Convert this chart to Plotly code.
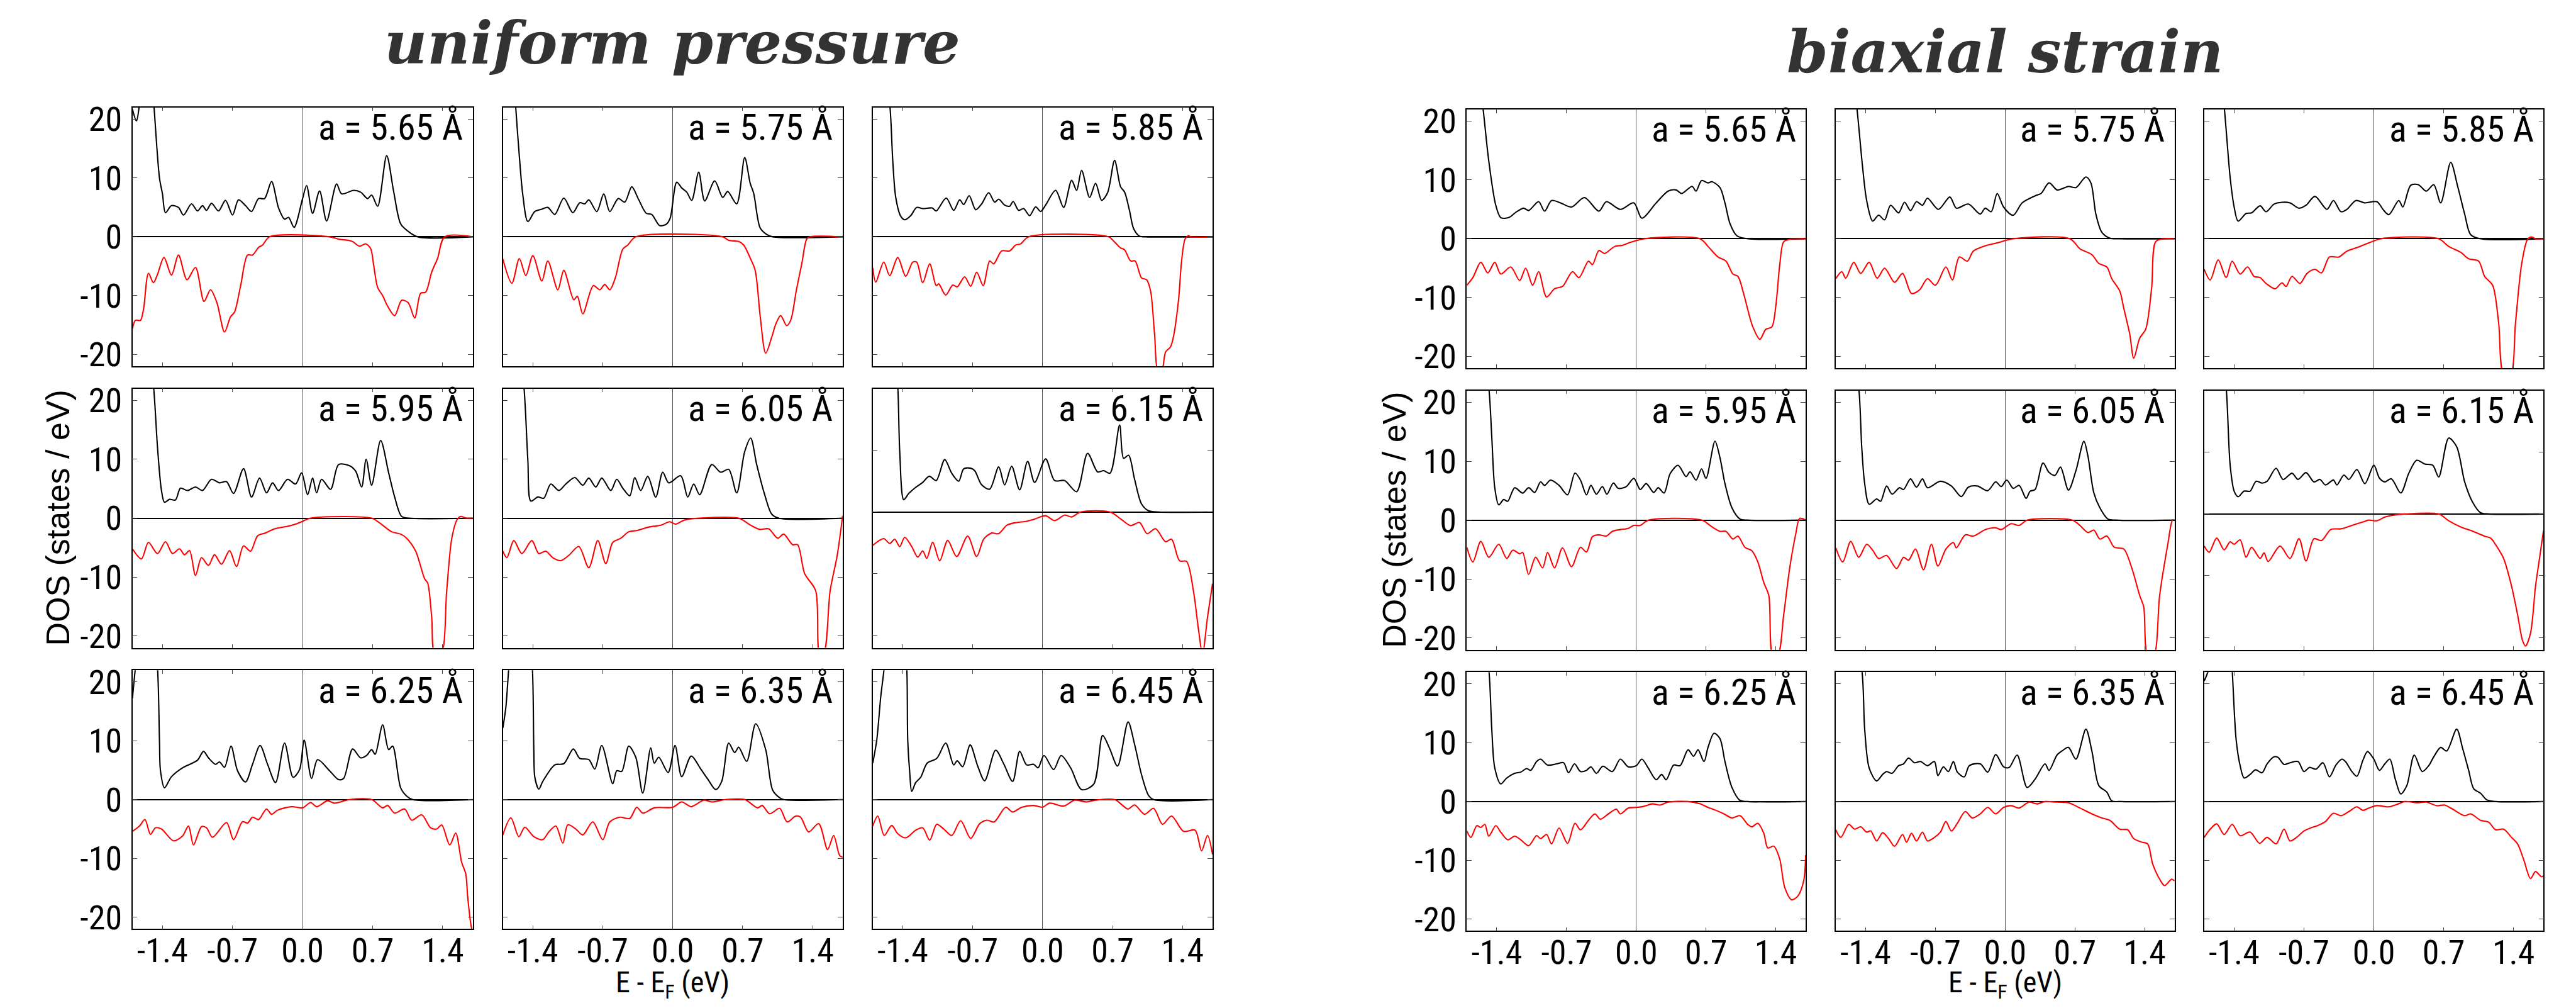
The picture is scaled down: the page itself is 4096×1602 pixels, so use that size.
import plotly.graph_objects as go

# ---------------- data (energy in eV, DOS in states/eV) ----------------
LABELS_UP = ["5.65", "5.75", "5.85", "5.95", "6.05", "6.15", "6.25", "6.35", "6.45"]
E_TICKS = [-1.4, -0.7, 0.0, 0.7, 1.4]
E_TICK_TEXT = ["-1.4", "-0.7", "0.0", "0.7", "1.4"]
DOS_TICKS = [-20, -10, 0, 10, 20]
DOS_TICK_TEXT = ["-20", "-10", "0", "10", "20"]

# ---- uniform pressure ----
up565_maj = [(-1.70,21.7),(-1.66,19.7),(-1.63,22.5),(-1.58,30),(-1.52,30),(-1.486,22.5),(-1.43,10),(-1.40,7.3),(-1.37,4.1),(-1.31,5.3),(-1.24,5.0),(-1.19,3.7),(-1.11,5.6),(-1.05,4.4),(-1.00,5.3),(-0.96,4.5),(-0.91,5.7),(-0.84,4.4),(-0.77,6.2),(-0.70,3.7),(-0.64,6.3),(-0.57,5.3),(-0.51,4.3),(-0.44,6.5),(-0.38,6.5),(-0.31,9.4),(-0.24,4.9),(-0.18,3.0),(-0.14,3.3),(-0.085,1.6),(0.0,6.5),(0.04,8.7),(0.10,4.0),(0.17,7.8),(0.24,2.7),(0.34,9.0),(0.39,7.3),(0.51,7.9),(0.58,7.6),(0.65,6.5),(0.69,7.1),(0.75,5.2),(0.84,13.8),(0.91,7.7),(0.98,2.2),(1.05,1.0),(1.15,0),(1.70,0)]
up565_min = [(-1.70,-15.6),(-1.67,-14.2),(-1.62,-14.2),(-1.59,-12.4),(-1.54,-6.2),(-1.49,-7.8),(-1.45,-6.4),(-1.385,-3.5),(-1.31,-6.5),(-1.24,-3.1),(-1.155,-7.3),(-1.07,-5.2),(-0.985,-11.0),(-0.92,-9.0),(-0.856,-11.2),(-0.78,-16.2),(-0.72,-13.6),(-0.68,-12.8),(-0.62,-8.4),(-0.55,-3.1),(-0.50,-3.1),(-0.44,-1.8),(-0.40,-1.4),(-0.33,0),(0.27,0),(0.36,-0.4),(0.46,-0.6),(0.50,-0.8),(0.57,-1.6),(0.63,-1.2),(0.68,-2.0),(0.71,-4.8),(0.75,-8.6),(0.80,-10.0),(0.85,-11.8),(0.92,-13.4),(0.99,-10.8),(1.055,-11.2),(1.12,-13.8),(1.18,-9.6),(1.23,-9.4),(1.29,-6.0),(1.35,-3.6),(1.42,0),(1.70,0)]

up575_maj = [(-1.70,40),(-1.60,30),(-1.573,22.5),(-1.535,13.7),(-1.50,7.1),(-1.45,2.6),(-1.38,4.3),(-1.31,4.7),(-1.25,5.0),(-1.18,3.8),(-1.09,6.6),(-1.00,4.1),(-0.93,5.8),(-0.88,5.6),(-0.84,6.3),(-0.76,4.3),(-0.69,7.3),(-0.63,4.3),(-0.545,6.5),(-0.48,5.9),(-0.41,8.5),(-0.34,6.3),(-0.265,4.0),(-0.21,3.8),(-0.13,1.9),(-0.06,2.2),(-0.025,3.2),(0.04,9.3),(0.09,8.3),(0.14,7.6),(0.19,6.2),(0.26,11.0),(0.32,6.1),(0.42,9.5),(0.50,6.7),(0.55,7.7),(0.64,5.6),(0.72,13.5),(0.775,9.1),(0.81,7.4),(0.875,1.5),(0.94,0.4),(1.00,0),(1.70,0)]
up575_min = [(-1.70,-3.8),(-1.61,-7.9),(-1.535,-3.7),(-1.47,-6.6),(-1.40,-3.2),(-1.31,-7.5),(-1.25,-4.1),(-1.15,-9.0),(-1.09,-5.7),(-0.99,-10.7),(-0.955,-10.1),(-0.90,-13.1),(-0.795,-8.3),(-0.73,-9.0),(-0.68,-8.1),(-0.63,-9.0),(-0.575,-7.0),(-0.50,-2.1),(-0.45,-1.4),(-0.37,0),(0.50,0),(0.56,-0.6),(0.66,-0.8),(0.71,-1.4),(0.775,-3.6),(0.825,-5.7),(0.875,-13.5),(0.93,-19.8),(0.99,-17.1),(1.03,-14.9),(1.08,-13.4),(1.14,-15.1),(1.18,-14.2),(1.24,-8.8),(1.29,-4.7),(1.34,-0.4),(1.37,0),(1.70,0)]

up585_maj = [(-1.70,40),(-1.60,30),(-1.53,22.5),(-1.50,13.0),(-1.47,6.7),(-1.42,3.5),(-1.38,2.9),(-1.32,3.6),(-1.26,5.0),(-1.20,4.8),(-1.105,4.9),(-1.065,4.4),(-0.965,6.6),(-0.89,4.5),(-0.83,6.3),(-0.79,5.5),(-0.735,7.0),(-0.67,4.6),(-0.61,5.6),(-0.54,7.5),(-0.48,5.9),(-0.44,6.4),(-0.38,5.4),(-0.33,5.2),(-0.295,6.0),(-0.24,4.5),(-0.19,4.8),(-0.13,3.6),(-0.07,5.1),(-0.02,4.3),(0.03,5.4),(0.13,7.9),(0.21,5.0),(0.29,9.6),(0.34,7.9),(0.39,11.3),(0.47,6.7),(0.53,9.1),(0.59,6.2),(0.65,7.5),(0.72,13.0),(0.78,8.5),(0.82,7.6),(0.87,4.4),(0.91,1.4),(0.97,0.1),(1.03,0),(1.70,0)]
up585_min = [(-1.70,-5.3),(-1.67,-7.7),(-1.59,-4.3),(-1.53,-6.6),(-1.45,-3.5),(-1.37,-6.7),(-1.30,-4.3),(-1.26,-4.3),(-1.20,-7.8),(-1.13,-4.6),(-1.065,-8.3),(-1.04,-8.0),(-0.97,-9.9),(-0.90,-8.2),(-0.855,-8.5),(-0.78,-6.8),(-0.72,-8.4),(-0.66,-6.0),(-0.595,-8.3),(-0.53,-4.1),(-0.49,-4.6),(-0.41,-2.4),(-0.33,-2.4),(-0.27,-1.4),(-0.22,-1.2),(-0.14,0),(0.66,0),(0.71,-0.7),(0.78,-1.9),(0.82,-2.2),(0.88,-4.1),(0.925,-4.1),(0.99,-7.0),(1.04,-7.3),(1.08,-9.2),(1.12,-16.6),(1.155,-23),(1.19,-23),(1.23,-19.6),(1.28,-18.7),(1.31,-16.9),(1.36,-10.7),(1.39,-4.2),(1.425,-0.4),(1.46,0.2),(1.48,0),(1.70,0)]

up595_maj = [(-1.70,40),(-1.55,30),(-1.49,22.5),(-1.45,12.1),(-1.41,4.7),(-1.38,2.7),(-1.33,3.2),(-1.27,3.1),(-1.22,5.1),(-1.15,4.7),(-1.07,5.3),(-1.00,4.7),(-0.91,6.6),(-0.83,6.0),(-0.76,6.2),(-0.69,4.2),(-0.59,8.4),(-0.51,3.6),(-0.43,6.8),(-0.36,4.3),(-0.30,6.0),(-0.24,4.7),(-0.15,6.6),(-0.07,5.8),(-0.01,7.7),(0.05,4.0),(0.10,6.8),(0.14,4.3),(0.19,6.6),(0.28,4.9),(0.36,9.1),(0.47,8.9),(0.53,8.0),(0.59,5.3),(0.635,10.0),(0.69,5.6),(0.78,13.2),(0.86,7.7),(0.92,3.6),(0.99,0.3),(1.07,0),(1.70,0)]
up595_min = [(-1.70,-5.2),(-1.61,-6.9),(-1.54,-4.1),(-1.45,-6.0),(-1.37,-4.0),(-1.30,-6.0),(-1.23,-5.2),(-1.18,-6.2),(-1.13,-5.5),(-1.07,-9.7),(-1.01,-6.7),(-0.94,-8.0),(-0.88,-6.2),(-0.81,-7.8),(-0.73,-5.5),(-0.66,-8.2),(-0.59,-4.7),(-0.52,-5.6),(-0.45,-3.0),(-0.37,-2.5),(-0.28,-1.8),(-0.16,-1.4),(-0.07,-1.0),(-0.01,-0.6),(0.08,0),(0.69,0),(0.77,-0.8),(0.89,-2.3),(0.98,-2.7),(1.04,-3.4),(1.13,-5.6),(1.22,-10.3),(1.25,-11.0),(1.29,-16.8),(1.32,-23),(1.385,-23),(1.44,-12.3),(1.49,-3.5),(1.545,-0.2),(1.58,0.3),(1.64,0),(1.70,0)]

up605_maj = [(-1.70,40),(-1.55,30),(-1.49,22.5),(-1.45,9.9),(-1.42,2.9),(-1.35,3.6),(-1.29,3.4),(-1.22,5.8),(-1.14,4.7),(-1.07,5.8),(-0.98,6.9),(-0.90,5.6),(-0.84,6.8),(-0.77,5.3),(-0.71,6.8),(-0.62,4.7),(-0.56,6.6),(-0.50,5.1),(-0.43,3.8),(-0.38,6.9),(-0.32,4.7),(-0.25,7.1),(-0.17,3.6),(-0.10,7.8),(-0.04,6.0),(0.08,7.2),(0.15,3.6),(0.21,5.8),(0.27,4.0),(0.39,9.1),(0.48,7.8),(0.56,8.3),(0.64,4.3),(0.72,11.3),(0.78,13.6),(0.84,9.1),(0.92,4.0),(0.99,0.7),(1.06,0),(1.70,0)]
up605_min = [(-1.70,-5.6),(-1.66,-6.7),(-1.59,-3.8),(-1.51,-6.0),(-1.41,-3.8),(-1.34,-6.0),(-1.27,-5.6),(-1.20,-6.7),(-1.12,-7.2),(-1.04,-6.3),(-0.94,-4.8),(-0.84,-8.4),(-0.75,-3.8),(-0.67,-7.7),(-0.60,-4.1),(-0.52,-3.4),(-0.44,-2.3),(-0.36,-2.1),(-0.24,-1.5),(-0.12,-1.2),(-0.03,-0.6),(0.03,-1.0),(0.12,-0.3),(0.27,0),(0.66,0),(0.78,-1.2),(0.87,-1.9),(0.96,-1.8),(1.05,-3.4),(1.11,-2.7),(1.20,-4.5),(1.25,-4.5),(1.32,-9.4),(1.43,-12.3),(1.47,-23),(1.51,-23),(1.575,-12.3),(1.645,-6.4),(1.70,0.4)]

up615_maj = [(-1.70,40),(-1.50,30),(-1.45,20.5),(-1.43,9.8),(-1.39,2.0),(-1.34,3.0),(-1.27,4.0),(-1.20,4.8),(-1.135,5.8),(-1.065,5.1),(-0.98,8.5),(-0.91,6.3),(-0.84,5.0),(-0.79,7.0),(-0.72,7.1),(-0.68,6.7),(-0.61,4.4),(-0.53,3.7),(-0.44,7.3),(-0.38,4.4),(-0.31,7.4),(-0.23,3.6),(-0.15,8.2),(-0.08,4.8),(0.03,8.6),(0.12,5.1),(0.22,5.1),(0.34,3.3),(0.45,9.5),(0.55,6.5),(0.61,6.7),(0.675,6.3),(0.77,14.1),(0.81,8.7),(0.86,9.2),(0.92,5.3),(0.99,1.3),(1.06,0.2),(1.16,0),(1.70,0)]
up615_min = [(-1.70,-5.4),(-1.59,-4.3),(-1.53,-5.1),(-1.48,-4.4),(-1.43,-5.6),(-1.38,-4.1),(-1.31,-5.6),(-1.25,-7.3),(-1.20,-6.3),(-1.16,-7.5),(-1.10,-4.9),(-1.03,-7.9),(-0.95,-4.6),(-0.86,-7.2),(-0.75,-3.9),(-0.66,-7.2),(-0.59,-4.4),(-0.51,-3.4),(-0.44,-3.5),(-0.355,-2.1),(-0.26,-1.7),(-0.16,-1.5),(-0.09,-1.2),(0.03,-0.6),(0.12,-1.4),(0.22,-0.5),(0.29,-0.8),(0.38,0),(0.675,0),(0.78,-1.1),(0.88,-2.2),(0.97,-1.7),(1.045,-3.5),(1.13,-2.7),(1.23,-4.8),(1.29,-4.4),(1.37,-7.9),(1.44,-8.0),(1.51,-12.9),(1.56,-19.1),(1.60,-23),(1.65,-17.0),(1.70,-11.6)]

up625_maj = [(-1.70,17.2),(-1.67,22.5),(-1.62,30),(-1.50,30),(-1.45,22.5),(-1.43,10.0),(-1.42,4.9),(-1.38,2.0),(-1.31,3.9),(-1.20,5.4),(-1.05,6.7),(-0.99,8.2),(-0.94,7.1),(-0.87,6.0),(-0.83,6.4),(-0.78,5.5),(-0.715,9.1),(-0.65,4.9),(-0.57,3.0),(-0.50,6.0),(-0.425,9.2),(-0.35,6.0),(-0.27,2.9),(-0.18,9.6),(-0.095,3.8),(-0.03,5.1),(0.016,10.1),(0.09,3.6),(0.15,6.8),(0.27,4.9),(0.36,3.4),(0.41,3.6),(0.50,8.6),(0.58,7.1),(0.64,7.5),(0.69,8.5),(0.725,7.7),(0.80,12.7),(0.86,8.5),(0.90,9.1),(0.98,2.0),(1.04,0.6),(1.10,0),(1.70,0)]
up625_min = [(-1.70,-5.4),(-1.63,-4.5),(-1.575,-3.4),(-1.52,-5.9),(-1.47,-4.8),(-1.41,-5.0),(-1.29,-7.0),(-1.20,-6.2),(-1.14,-4.5),(-1.09,-7.7),(-1.01,-4.6),(-0.96,-4.8),(-0.90,-6.4),(-0.76,-3.9),(-0.69,-6.8),(-0.60,-3.75),(-0.55,-4.0),(-0.50,-3.0),(-0.44,-3.4),(-0.36,-1.6),(-0.31,-2.5),(-0.25,-1.8),(-0.11,-1.2),(0.0,-1.4),(0.08,-0.5),(0.14,-1.2),(0.25,-0.2),(0.315,-0.6),(0.47,0),(0.69,0),(0.80,-1.4),(0.85,-1.0),(0.92,-2.3),(1.02,-1.6),(1.09,-3.5),(1.19,-2.6),(1.28,-4.8),(1.34,-5.0),(1.39,-4.3),(1.47,-7.7),(1.53,-5.7),(1.59,-10.7),(1.63,-12.6),(1.65,-16.6),(1.685,-21.6),(1.70,-22.5)]

up635_maj = [(-1.70,12.2),(-1.67,15.7),(-1.64,22.5),(-1.60,30),(-1.45,30),(-1.405,22.5),(-1.39,8.3),(-1.38,3.8),(-1.34,1.8),(-1.30,3.1),(-1.18,5.9),(-1.09,6.1),(-0.995,8.6),(-0.93,7.0),(-0.84,6.8),(-0.78,5.2),(-0.71,9.2),(-0.60,2.7),(-0.56,4.9),(-0.51,4.8),(-0.44,9.1),(-0.37,7.2),(-0.30,1.1),(-0.22,8.8),(-0.185,6.2),(-0.14,7.2),(-0.046,4.6),(0.023,9.2),(0.09,3.9),(0.185,7.4),(0.28,5.2),(0.35,3.5),(0.43,1.7),(0.49,3.1),(0.56,9.6),(0.62,8.0),(0.66,8.9),(0.74,6.5),(0.83,12.9),(0.93,8.5),(1.00,1.6),(1.07,0.3),(1.11,0),(1.70,0)]
up635_min = [(-1.70,-6.0),(-1.62,-3.1),(-1.54,-6.3),(-1.48,-4.7),(-1.39,-6.3),(-1.30,-6.8),(-1.24,-5.5),(-1.17,-4.5),(-1.10,-7.4),(-1.05,-4.3),(-0.97,-5.0),(-0.90,-6.0),(-0.80,-3.8),(-0.70,-6.8),(-0.63,-3.8),(-0.53,-3.0),(-0.43,-3.2),(-0.36,-1.3),(-0.30,-2.3),(-0.185,-1.4),(0.0,-1.3),(0.09,-0.4),(0.185,-1.2),(0.31,-0.1),(0.39,-0.4),(0.53,0),(0.72,0),(0.85,-1.4),(0.895,-1.0),(0.97,-2.4),(1.07,-1.5),(1.145,-3.8),(1.23,-2.8),(1.28,-3.0),(1.36,-5.5),(1.46,-4.1),(1.55,-8.5),(1.61,-6.1),(1.67,-9.5),(1.70,-9.8)]

up645_maj = [(-1.70,6.2),(-1.66,10.1),(-1.62,17.5),(-1.585,22.5),(-1.55,30),(-1.40,30),(-1.36,22.5),(-1.35,10.1),(-1.33,4.6),(-1.31,1.4),(-1.27,2.9),(-1.22,3.8),(-1.155,6.2),(-1.06,7.0),(-0.97,9.6),(-0.89,5.9),(-0.855,6.6),(-0.80,5.6),(-0.725,9.3),(-0.65,5.7),(-0.58,3.2),(-0.47,8.4),(-0.39,6.1),(-0.30,3.1),(-0.23,8.2),(-0.16,5.9),(-0.09,6.0),(-0.046,5.4),(0.014,7.5),(0.11,5.1),(0.185,7.5),(0.28,5.4),(0.39,1.7),(0.51,2.6),(0.60,10.9),(0.67,8.7),(0.75,5.7),(0.855,13.2),(0.92,9.4),(0.99,4.2),(1.06,0.7),(1.11,0),(1.70,0)]
up645_min = [(-1.70,-4.5),(-1.65,-2.8),(-1.585,-6.1),(-1.51,-4.4),(-1.45,-5.8),(-1.37,-6.5),(-1.27,-5.2),(-1.20,-4.8),(-1.13,-6.9),(-1.06,-4.2),(-0.99,-5.0),(-0.91,-6.1),(-0.82,-3.6),(-0.72,-6.6),(-0.63,-4.1),(-0.555,-3.5),(-0.485,-3.8),(-0.37,-1.3),(-0.30,-2.1),(-0.21,-1.3),(-0.09,-1.0),(0.0,-1.3),(0.07,-0.6),(0.21,-1.1),(0.32,-0.1),(0.44,-0.4),(0.53,-0.1),(0.72,0),(0.855,-1.6),(0.92,-0.9),(1.02,-2.5),(1.11,-1.5),(1.20,-4.2),(1.29,-2.8),(1.41,-5.4),(1.525,-5.2),(1.59,-8.7),(1.65,-6.1),(1.70,-9.3)]

# ---- biaxial strain ----
bx565_maj = [(-1.70,40),(-1.60,30),(-1.54,22.5),(-1.48,13.2),(-1.41,5.7),(-1.36,3.6),(-1.28,3.6),(-1.20,4.6),(-1.13,5.2),(-1.08,4.8),(-0.98,6.3),(-0.92,4.7),(-0.85,6.5),(-0.76,6.1),(-0.65,5.4),(-0.52,7.0),(-0.375,4.7),(-0.30,6.3),(-0.16,5.0),(-0.024,6.1),(0.056,3.5),(0.20,6.1),(0.32,8.1),(0.40,8.3),(0.455,7.7),(0.56,8.9),(0.60,8.1),(0.655,9.9),(0.72,9.5),(0.76,9.7),(0.84,8.7),(0.89,6.1),(0.94,2.6),(1.01,0.5),(1.12,0),(1.70,0)]
bx565_min = [(-1.70,-7.9),(-1.64,-6.6),(-1.56,-4.0),(-1.49,-5.8),(-1.42,-4.0),(-1.36,-6.0),(-1.26,-4.8),(-1.17,-7.1),(-1.11,-5.0),(-1.04,-7.9),(-0.98,-5.6),(-0.90,-9.9),(-0.82,-8.5),(-0.74,-8.1),(-0.64,-5.6),(-0.575,-6.6),(-0.48,-3.8),(-0.44,-4.4),(-0.375,-2.0),(-0.32,-2.5),(-0.215,-1.3),(-0.135,-1.1),(-0.056,-0.6),(0.08,0),(0.64,0),(0.72,-1.3),(0.82,-3.1),(0.90,-3.8),(0.97,-6.0),(1.02,-6.4),(1.08,-9.5),(1.14,-13.4),(1.17,-15.0),(1.24,-17.1),(1.30,-15.4),(1.36,-15.0),(1.40,-11.5),(1.44,-4.4),(1.48,-0.5),(1.54,-0.1),(1.64,0),(1.70,0)]

bx575_maj = [(-1.70,40),(-1.55,30),(-1.49,22.5),(-1.43,12.0),(-1.39,6.5),(-1.33,3.0),(-1.27,4.0),(-1.21,3.2),(-1.15,5.7),(-1.07,4.4),(-1.01,6.2),(-0.95,4.8),(-0.89,6.3),(-0.83,5.7),(-0.78,6.9),(-0.67,5.0),(-0.555,7.1),(-0.49,5.2),(-0.37,5.9),(-0.25,4.2),(-0.20,5.2),(-0.14,4.6),(-0.08,7.7),(-0.016,5.4),(0.08,4.0),(0.17,6.1),(0.30,7.3),(0.36,7.7),(0.44,9.5),(0.52,8.3),(0.57,8.5),(0.635,8.9),(0.71,8.7),(0.81,10.5),(0.86,9.5),(0.91,4.2),(0.97,1.1),(1.05,0.1),(1.15,0),(1.70,0)]
bx575_min = [(-1.70,-6.8),(-1.64,-5.6),(-1.60,-6.7),(-1.52,-4.0),(-1.45,-5.9),(-1.365,-4.0),(-1.285,-6.7),(-1.21,-5.0),(-1.11,-7.4),(-1.03,-5.9),(-0.94,-9.3),(-0.86,-8.7),(-0.78,-6.8),(-0.70,-7.9),(-0.595,-4.8),(-0.53,-7.0),(-0.46,-3.1),(-0.38,-3.8),(-0.32,-2.1),(-0.20,-1.2),(-0.08,-0.7),(0.08,0),(0.65,0),(0.75,-1.7),(0.87,-2.7),(0.94,-4.2),(1.02,-4.8),(1.07,-6.8),(1.15,-8.9),(1.19,-11.8),(1.25,-16.2),(1.29,-20.3),(1.35,-16.9),(1.41,-15.4),(1.47,-8.3),(1.51,-0.5),(1.59,0),(1.70,0)]

bx585_maj = [(-1.70,40),(-1.55,30),(-1.50,22.5),(-1.44,10.4),(-1.40,5.4),(-1.36,3.0),(-1.28,4.3),(-1.225,4.4),(-1.14,5.6),(-1.08,4.6),(-1.00,5.9),(-0.92,6.2),(-0.84,6.1),(-0.75,5.2),(-0.68,5.7),(-0.59,7.2),(-0.47,5.0),(-0.405,6.5),(-0.33,4.6),(-0.27,5.0),(-0.18,6.5),(-0.09,6.1),(0.03,6.3),(0.10,4.8),(0.15,4.1),(0.25,6.5),(0.29,5.4),(0.37,9.1),(0.445,9.2),(0.525,8.1),(0.60,9.2),(0.67,6.1),(0.77,13.0),(0.84,8.9),(0.91,4.2),(0.97,0.7),(1.07,0),(1.70,0)]
bx585_min = [(-1.70,-5.2),(-1.64,-7.0),(-1.56,-3.6),(-1.48,-6.6),(-1.42,-3.8),(-1.34,-6.0),(-1.265,-4.8),(-1.20,-6.4),(-1.14,-6.6),(-1.08,-7.6),(-0.99,-8.5),(-0.92,-7.5),(-0.88,-8.1),(-0.82,-6.4),(-0.74,-7.6),(-0.67,-5.9),(-0.59,-5.2),(-0.525,-5.8),(-0.445,-3.1),(-0.35,-3.1),(-0.27,-2.1),(-0.17,-1.5),(-0.05,-0.7),(0.07,0),(0.65,0),(0.75,-1.3),(0.87,-2.3),(0.95,-3.4),(1.05,-3.8),(1.11,-6.4),(1.19,-7.9),(1.25,-14.2),(1.30,-23),(1.37,-23),(1.42,-14.2),(1.48,-4.4),(1.54,-0.1),(1.58,0.3),(1.62,0),(1.70,0)]

bx595_maj = [(-1.70,40),(-1.55,30),(-1.48,22.5),(-1.45,14.1),(-1.42,5.5),(-1.38,2.6),(-1.33,3.5),(-1.29,3.2),(-1.22,5.5),(-1.14,4.6),(-1.08,5.5),(-1.02,4.7),(-0.96,6.5),(-0.92,5.9),(-0.86,6.8),(-0.775,5.9),(-0.69,4.3),(-0.615,8.0),(-0.56,6.8),(-0.50,4.3),(-0.455,5.9),(-0.40,4.4),(-0.34,5.7),(-0.295,4.4),(-0.23,6.3),(-0.18,5.4),(-0.10,5.7),(-0.024,7.1),(0.04,5.2),(0.10,6.2),(0.175,4.7),(0.22,5.5),(0.28,4.6),(0.34,7.9),(0.42,9.3),(0.50,7.4),(0.54,8.2),(0.60,6.8),(0.655,8.7),(0.70,7.1),(0.79,13.4),(0.84,10.6),(0.89,6.2),(0.96,2.1),(1.04,0.2),(1.12,0),(1.70,0)]
bx595_min = [(-1.70,-4.6),(-1.64,-7.1),(-1.56,-3.6),(-1.48,-6.3),(-1.38,-4.1),(-1.30,-6.5),(-1.24,-5.1),(-1.17,-5.7),(-1.14,-5.5),(-1.08,-9.2),(-1.01,-6.3),(-0.94,-8.1),(-0.89,-5.5),(-0.82,-8.1),(-0.74,-4.7),(-0.65,-7.9),(-0.56,-4.6),(-0.50,-5.4),(-0.44,-2.8),(-0.375,-2.5),(-0.30,-2.7),(-0.24,-1.9),(-0.16,-1.6),(-0.08,-1.4),(-0.024,-0.9),(0.04,-0.9),(0.12,0),(0.66,0),(0.74,-0.9),(0.84,-1.9),(0.90,-1.9),(0.97,-3.2),(1.02,-2.7),(1.09,-4.6),(1.16,-5.2),(1.22,-7.1),(1.28,-10.6),(1.33,-12.8),(1.37,-23),(1.42,-23),(1.48,-16.0),(1.54,-8.1),(1.60,-2.4),(1.64,0.3),(1.70,0)]

bx605_maj = [(-1.70,40),(-1.55,30),(-1.47,22.5),(-1.44,12.5),(-1.41,6.2),(-1.365,2.7),(-1.29,3.6),(-1.25,3.2),(-1.19,5.8),(-1.135,4.4),(-1.06,5.5),(-1.02,5.2),(-0.95,7.0),(-0.89,5.6),(-0.83,7.0),(-0.78,5.5),(-0.65,6.6),(-0.54,5.8),(-0.44,4.0),(-0.37,5.6),(-0.28,5.8),(-0.175,5.0),(-0.095,6.5),(-0.04,5.7),(0.016,6.8),(0.08,5.4),(0.14,5.9),(0.21,3.7),(0.25,4.9),(0.30,5.2),(0.38,9.7),(0.44,8.1),(0.50,7.6),(0.555,9.0),(0.635,5.1),(0.71,8.4),(0.79,13.4),(0.83,10.9),(0.89,4.6),(0.95,2.1),(1.03,0.2),(1.11,0),(1.70,0)]
bx605_min = [(-1.70,-4.7),(-1.63,-7.1),(-1.55,-3.6),(-1.47,-6.3),(-1.39,-4.1),(-1.33,-5.1),(-1.27,-6.5),(-1.19,-6.0),(-1.09,-8.2),(-1.02,-6.3),(-0.97,-6.8),(-0.90,-4.9),(-0.82,-8.4),(-0.74,-4.1),(-0.675,-7.8),(-0.595,-4.9),(-0.52,-3.8),(-0.49,-4.7),(-0.40,-2.5),(-0.32,-2.7),(-0.20,-1.6),(-0.095,-1.3),(-0.04,-1.6),(0.06,-0.6),(0.14,-0.9),(0.22,0),(0.675,0),(0.75,-0.9),(0.83,-2.1),(0.89,-1.7),(0.95,-3.2),(1.02,-2.7),(1.095,-4.6),(1.19,-4.9),(1.27,-8.1),(1.35,-12.8),(1.39,-14.7),(1.43,-23),(1.49,-23),(1.55,-12.8),(1.63,-4.3),(1.68,0),(1.70,0)]

bx615_maj = [(-1.70,40),(-1.55,30),(-1.48,20.5),(-1.44,7.9),(-1.40,3.7),(-1.36,2.8),(-1.30,3.7),(-1.24,3.7),(-1.18,5.3),(-1.12,5.0),(-1.07,5.3),(-0.98,7.4),(-0.91,5.6),(-0.82,6.6),(-0.76,5.6),(-0.68,6.7),(-0.60,5.2),(-0.54,5.6),(-0.485,4.7),(-0.405,5.5),(-0.37,4.7),(-0.30,6.3),(-0.25,5.6),(-0.17,7.2),(-0.09,4.9),(0.0,7.9),(0.056,5.8),(0.11,5.2),(0.175,5.7),(0.27,3.4),(0.35,6.6),(0.43,8.7),(0.51,8.1),(0.59,7.9),(0.65,6.0),(0.75,12.3),(0.83,10.9),(0.91,5.2),(0.99,1.9),(1.07,0.2),(1.15,0),(1.70,0)]
bx615_min = [(-1.70,-5.2),(-1.65,-6.2),(-1.575,-3.9),(-1.50,-5.8),(-1.44,-4.5),(-1.40,-4.9),(-1.34,-4.2),(-1.28,-7.0),(-1.225,-5.4),(-1.14,-7.2),(-1.10,-6.3),(-1.06,-7.7),(-0.94,-5.2),(-0.84,-7.2),(-0.75,-4.0),(-0.68,-7.6),(-0.60,-4.0),(-0.525,-4.3),(-0.43,-2.5),(-0.33,-2.4),(-0.21,-1.8),(-0.11,-1.3),(-0.05,-1.0),(0.03,-1.1),(0.11,-0.5),(0.23,-0.1),(0.31,0),(0.65,0),(0.75,-1.1),(0.87,-2.1),(0.99,-2.8),(1.11,-3.6),(1.17,-3.9),(1.225,-5.1),(1.30,-7.2),(1.38,-11.7),(1.44,-16.3),(1.49,-20.5),(1.52,-21.4),(1.57,-19.3),(1.62,-11.7),(1.66,-7.2),(1.70,-2.7)]

bx625_maj = [(-1.70,40),(-1.55,30),(-1.48,22.5),(-1.45,12.3),(-1.42,5.7),(-1.36,3.0),(-1.30,4.0),(-1.22,4.8),(-1.16,5.0),(-1.10,5.6),(-1.06,5.3),(-1.00,6.8),(-0.96,7.2),(-0.89,6.2),(-0.80,6.4),(-0.73,6.6),(-0.68,4.9),(-0.62,6.4),(-0.56,5.1),(-0.50,5.3),(-0.455,5.9),(-0.40,4.8),(-0.335,6.0),(-0.24,5.1),(-0.16,7.2),(-0.08,5.9),(0.0,6.1),(0.056,7.2),(0.12,5.7),(0.20,3.7),(0.255,4.6),(0.30,3.7),(0.375,6.2),(0.44,6.1),(0.52,8.8),(0.575,7.7),(0.62,8.8),(0.68,6.8),(0.72,9.2),(0.78,11.6),(0.84,10.7),(0.89,6.8),(0.96,2.4),(1.04,0.2),(1.12,0),(1.70,0)]
bx625_min = [(-1.70,-5.0),(-1.66,-6.1),(-1.60,-4.1),(-1.56,-4.4),(-1.52,-3.9),(-1.48,-5.9),(-1.41,-4.1),(-1.36,-5.2),(-1.29,-6.5),(-1.22,-5.9),(-1.16,-6.5),(-1.08,-7.5),(-1.00,-5.8),(-0.96,-6.3),(-0.90,-5.6),(-0.85,-7.2),(-0.775,-4.5),(-0.69,-7.1),(-0.615,-3.7),(-0.56,-4.8),(-0.48,-3.2),(-0.415,-2.1),(-0.36,-3.0),(-0.28,-2.1),(-0.20,-1.3),(-0.16,-2.1),(-0.08,-1.1),(0.0,-1.0),(0.08,-0.8),(0.16,-0.4),(0.24,-0.6),(0.32,-0.1),(0.52,0),(0.64,-0.4),(0.72,-1.0),(0.80,-1.5),(0.88,-2.1),(0.96,-2.8),(1.04,-2.4),(1.12,-3.9),(1.16,-4.3),(1.22,-3.7),(1.28,-5.4),(1.32,-7.9),(1.38,-7.6),(1.44,-9.8),(1.49,-14.6),(1.56,-16.7),(1.62,-16.1),(1.68,-13.5),(1.70,-9.1)]

bx635_maj = [(-1.70,40),(-1.55,30),(-1.44,22.5),(-1.41,12.3),(-1.365,5.7),(-1.29,3.5),(-1.23,4.6),(-1.19,5.1),(-1.135,4.8),(-1.07,6.1),(-1.02,6.4),(-0.97,7.4),(-0.91,6.6),(-0.85,6.8),(-0.78,6.1),(-0.71,6.8),(-0.675,4.4),(-0.62,5.9),(-0.57,5.1),(-0.52,6.8),(-0.48,5.0),(-0.41,4.2),(-0.36,6.1),(-0.25,6.4),(-0.175,5.0),(-0.095,8.0),(-0.016,5.9),(0.04,5.8),(0.12,7.9),(0.22,2.4),(0.30,3.8),(0.40,6.4),(0.44,5.3),(0.52,7.9),(0.57,8.6),(0.635,9.2),(0.71,7.2),(0.81,12.3),(0.87,8.6),(0.94,2.7),(1.02,1.6),(1.07,0.1),(1.15,0),(1.70,0)]
bx635_min = [(-1.70,-4.8),(-1.65,-6.1),(-1.57,-3.9),(-1.51,-4.7),(-1.45,-4.3),(-1.39,-5.2),(-1.35,-5.0),(-1.29,-6.7),(-1.23,-5.3),(-1.17,-6.3),(-1.11,-7.6),(-1.03,-5.6),(-0.99,-6.9),(-0.94,-5.4),(-0.89,-6.7),(-0.83,-5.2),(-0.78,-6.7),(-0.71,-6.1),(-0.65,-5.2),(-0.595,-3.4),(-0.54,-5.0),(-0.48,-3.7),(-0.40,-1.7),(-0.33,-2.8),(-0.25,-2.1),(-0.175,-1.0),(-0.095,-2.1),(-0.016,-1.0),(0.06,-0.7),(0.14,-1.1),(0.24,-0.1),(0.32,-0.4),(0.40,0),(0.52,-0.1),(0.635,-0.2),(0.75,-1.1),(0.87,-2.1),(0.97,-2.8),(1.05,-3.2),(1.15,-4.7),(1.23,-4.8),(1.29,-6.3),(1.37,-6.9),(1.43,-7.2),(1.48,-10.6),(1.55,-13.2),(1.60,-14.3),(1.67,-13.2),(1.70,-13.5)]

bx645_maj = [(-1.70,20.5),(-1.655,22.5),(-1.60,30),(-1.45,30),(-1.42,22.5),(-1.38,10.5),(-1.34,6.1),(-1.30,4.0),(-1.24,4.6),(-1.185,5.4),(-1.12,4.9),(-1.07,6.4),(-1.00,7.6),(-0.96,7.5),(-0.90,6.3),(-0.84,6.6),(-0.76,6.8),(-0.70,5.1),(-0.645,5.8),(-0.58,5.5),(-0.51,6.6),(-0.445,4.2),(-0.38,6.2),(-0.32,7.2),(-0.285,6.8),(-0.22,5.1),(-0.17,4.3),(-0.11,7.0),(-0.064,8.5),(0.0,7.2),(0.056,5.3),(0.11,6.4),(0.16,7.2),(0.215,3.8),(0.27,1.3),(0.33,2.7),(0.405,7.9),(0.485,5.1),(0.55,6.1),(0.60,7.6),(0.67,9.2),(0.73,8.6),(0.83,12.3),(0.89,9.0),(0.95,5.3),(1.00,2.2),(1.07,1.4),(1.13,0.3),(1.22,0),(1.70,0)]
bx645_min = [(-1.70,-6.1),(-1.64,-4.7),(-1.575,-3.8),(-1.50,-5.6),(-1.42,-3.9),(-1.34,-5.8),(-1.24,-5.2),(-1.145,-7.1),(-1.07,-6.1),(-0.98,-7.2),(-0.90,-4.7),(-0.84,-6.7),(-0.76,-5.9),(-0.70,-5.0),(-0.62,-4.4),(-0.565,-4.1),(-0.485,-3.4),(-0.405,-2.0),(-0.33,-2.4),(-0.25,-1.7),(-0.17,-0.9),(-0.11,-1.5),(-0.05,-1.1),(0.03,-0.7),(0.15,-0.9),(0.23,-0.5),(0.31,0),(0.43,-0.2),(0.525,-0.1),(0.63,-0.7),(0.71,-0.6),(0.79,-1.3),(0.91,-2.4),(0.97,-2.1),(1.07,-3.2),(1.15,-3.5),(1.22,-4.8),(1.30,-4.7),(1.38,-6.1),(1.44,-7.2),(1.50,-9.8),(1.57,-13.1),(1.62,-11.9),(1.68,-12.8),(1.70,-12.6)]

# y-axis ranges (the a = 6.15 Å panels use a shorter top)
YRANGE_STD = [-22, 22]
YRANGE_615 = [-22, 20]

# ---------------- layout (reference pixel geometry, 5216 x 2040) ----------------
W, H = 4096, 1602
SRC_W, SRC_H = 5216, 2040

def fx(px):
    return px / SRC_W

def fy(py):
    return 1 - py / SRC_H

L_COLS = [(258, 947), (1008, 1696), (1757, 2445)]
R_COLS = [(2960, 3646), (3707, 4393), (4453, 5140)]
L_ROWS = [(195, 727), (773, 1306), (1352, 1884)]
R_ROWS = [(199, 731), (777, 1310), (1356, 1888)]

NARROW = "Liberation Sans Narrow, Arial Narrow, Roboto Condensed, DejaVu Sans Condensed, Liberation Sans, sans-serif"
TICK_SIZE = 54
LABEL_SIZE = 58

up_sets = [up565_maj, up565_min, up575_maj, up575_min, up585_maj, up585_min,
           up595_maj, up595_min, up605_maj, up605_min, up615_maj, up615_min,
           up625_maj, up625_min, up635_maj, up635_min, up645_maj, up645_min]
bx_sets = [bx565_maj, bx565_min, bx575_maj, bx575_min, bx585_maj, bx585_min,
           bx595_maj, bx595_min, bx605_maj, bx605_min, bx615_maj, bx615_min,
           bx625_maj, bx625_min, bx635_maj, bx635_min, bx645_maj, bx645_min]

fig = go.Figure()
layout = dict(
    width=W, height=H, margin=dict(l=0, r=0, t=0, b=0),
    paper_bgcolor="white", plot_bgcolor="white", showlegend=False,
)
annotations = []

idx = 0
for group, sets, cols, rows in (("up", up_sets, L_COLS, L_ROWS), ("bx", bx_sets, R_COLS, R_ROWS)):
    for k, lab in enumerate(LABELS_UP):
        idx += 1
        r, c = divmod(k, 3)
        maj = sets[2 * k]
        mnr = sets[2 * k + 1]
        xa = "x" if idx == 1 else f"x{idx}"
        ya = "y" if idx == 1 else f"y{idx}"
        xkey = "xaxis" if idx == 1 else f"xaxis{idx}"
        ykey = "yaxis" if idx == 1 else f"yaxis{idx}"
        yr = YRANGE_615 if lab == "6.15" else YRANGE_STD
        for pts, col in ((maj, "black"), (mnr, "#ff0000")):
            fig.add_trace(go.Scatter(
                x=[p[0] for p in pts], y=[p[1] for p in pts], mode="lines",
                line=dict(color=col, width=2.1, shape="spline", smoothing=0.85),
                xaxis=xa, yaxis=ya, hoverinfo="skip", showlegend=False))
        x0, x1 = cols[c]
        y0, y1 = rows[r]
        layout[xkey] = dict(
            domain=[fx(x0), fx(x1)], range=[-1.7, 1.7], anchor=ya,
            tickmode="array", tickvals=E_TICKS, ticktext=E_TICK_TEXT,
            showticklabels=(r == 2), ticks="inside", ticklen=6, tickwidth=1, tickcolor="#444",
            showline=True, mirror="ticks", linecolor="black", linewidth=1.5,
            zeroline=True, zerolinecolor="#555", zerolinewidth=1, showgrid=False,
            tickfont=dict(family=NARROW, size=TICK_SIZE, color="black"),
            ticklabelstandoff=-14, fixedrange=True)
        layout[ykey] = dict(
            domain=[fy(y1), fy(y0)], range=yr, anchor=xa,
            tickmode="array", tickvals=DOS_TICKS, ticktext=DOS_TICK_TEXT,
            showticklabels=(c == 0), ticks="inside", ticklen=8, tickwidth=1, tickcolor="#444",
            showline=True, mirror="ticks", linecolor="black", linewidth=1.5,
            zeroline=True, zerolinecolor="black", zerolinewidth=1.5, showgrid=False,
            tickfont=dict(family=NARROW, size=TICK_SIZE, color="black"),
            ticklabelstandoff=4, fixedrange=True)
        annotations.append(dict(
            text=f"a = {lab} Å", xref="paper", yref="paper",
            x=fx(x1 - 17), y=fy(y0 + 40), xanchor="right", yanchor="middle",
            showarrow=False, font=dict(family=NARROW, size=LABEL_SIZE, color="black")))

TITLE_FONT = dict(family="DejaVu Serif", size=94, color="#333333", weight="bold", style="italic")
annotations.append(dict(text="uniform pressure", xref="paper", yref="paper",
                        x=fx((L_COLS[0][0] + L_COLS[2][1]) / 2), y=fy(62),
                        xanchor="center", yanchor="middle", showarrow=False, font=TITLE_FONT))
annotations.append(dict(text="biaxial strain", xref="paper", yref="paper",
                        x=fx((R_COLS[0][0] + R_COLS[2][1]) / 2), y=fy(80),
                        xanchor="center", yanchor="middle", showarrow=False, font=TITLE_FONT))

for cx, rows in ((107, L_ROWS), (2812, R_ROWS)):
    annotations.append(dict(text="DOS (states / eV)", xref="paper", yref="paper",
                            x=fx(cx), y=fy((rows[1][0] + rows[1][1]) / 2), textangle=-90,
                            xanchor="center", yanchor="middle", showarrow=False,
                            font=dict(family="Liberation Sans, Arial, sans-serif", size=52, color="black")))
for cols in (L_COLS, R_COLS):
    annotations.append(dict(text="E - E<sub>F</sub> (eV)", xref="paper", yref="paper",
                            x=fx((cols[0][0] + cols[2][1]) / 2), y=0,
                            xanchor="center", yanchor="bottom", showarrow=False,
                            font=dict(family=NARROW, size=46, color="black")))

layout["annotations"] = annotations
fig.update_layout(**layout)
fig.write_html("out.html")
